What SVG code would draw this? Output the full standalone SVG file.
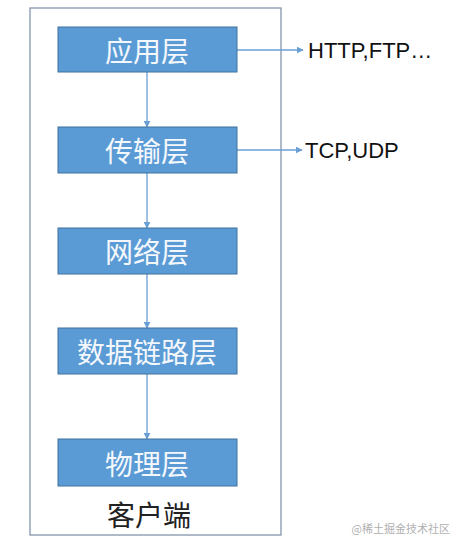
<svg xmlns="http://www.w3.org/2000/svg" width="457" height="543" viewBox="0 0 457 543">
<defs>
<style>
.layer{fill:#5b9bd5;stroke:#41719c;stroke-width:1}
.lt{font-family:"Noto Sans CJK SC","Liberation Sans",sans-serif;font-size:28px;fill:#f4f8fc;text-anchor:middle;dominant-baseline:central}
.conn{stroke:#6a9fd4;stroke-width:1.3;fill:none;marker-end:url(#ah)}
.lab{font-family:"Liberation Sans",Arial,sans-serif;font-size:22px;fill:#111}
</style>
<marker id="ah" viewBox="0 0 10 10" refX="9" refY="5" markerWidth="7" markerHeight="7" markerUnits="userSpaceOnUse" orient="auto">
<path d="M0,0 L10,5 L0,10 z" fill="#6a9fd4"/>
</marker>
</defs>
<rect width="457" height="543" fill="#ffffff"/>
<g id="client">
<rect x="30" y="8" width="251" height="527" fill="none" stroke="#8496ad" stroke-width="1.3"/>
<text x="149" y="514" style="font-family:'Noto Sans CJK SC',sans-serif;font-size:28px;fill:#222;text-anchor:middle;dominant-baseline:central">客户端</text>
</g>
<g id="connectors">
<line class="conn" x1="147" y1="72" x2="147" y2="127"/>
<line class="conn" x1="147" y1="173" x2="147" y2="228"/>
<line class="conn" x1="147" y1="274" x2="147" y2="328"/>
<line class="conn" x1="147" y1="374" x2="147" y2="439"/>
<line class="conn" x1="237" y1="50" x2="303" y2="50"/>
<line class="conn" x1="237" y1="150" x2="302" y2="150"/>
</g>
<g id="app"><rect class="layer" x="58" y="27" width="179" height="45"/><text class="lt" x="147" y="49.5">应用层</text></g>
<g id="transport"><rect class="layer" x="58" y="127" width="179" height="46"/><text class="lt" x="147" y="150">传输层</text></g>
<g id="network"><rect class="layer" x="58" y="228" width="179" height="46"/><text class="lt" x="147" y="251">网络层</text></g>
<g id="datalink"><rect class="layer" x="58" y="328" width="179" height="46"/><text class="lt" x="147" y="351">数据链路层</text></g>
<g id="physical"><rect class="layer" x="58" y="439" width="179" height="47"/><text class="lt" x="147" y="462.5">物理层</text></g>
<g id="labels">
<text class="lab" x="308" y="58">HTTP,FTP…</text>
<text class="lab" x="305" y="158">TCP,UDP</text>
</g>
<text x="450" y="533" style="font-family:'Noto Sans CJK SC',sans-serif;font-size:11px;fill:#b0b0b0;text-anchor:end">@稀土掘金技术社区</text>
</svg>
